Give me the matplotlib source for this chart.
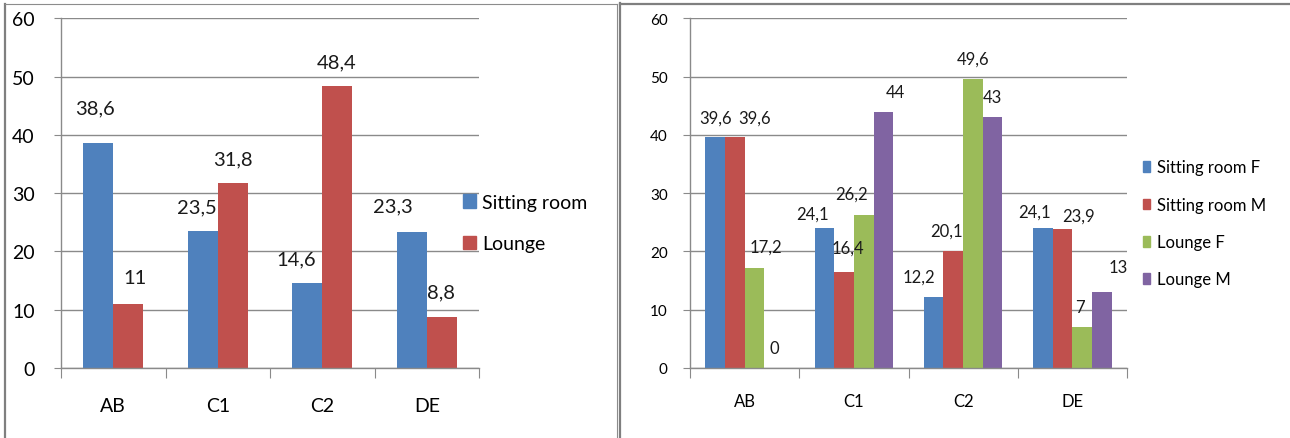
import matplotlib
matplotlib.use("Agg")
import matplotlib.pyplot as plt
import numpy as np
from matplotlib.patches import Patch
from matplotlib.lines import Line2D

plt.rcParams['font.family'] = ['Lato', 'DejaVu Sans']

# ---- data ----
categories = ["AB", "C1", "C2", "DE"]

left_series = ["Sitting room", "Lounge"]
sitting_room = [38.6, 23.5, 14.6, 23.3]
lounge = [11, 31.8, 48.4, 8.8]

right_series = ["Sitting room F", "Sitting room M", "Lounge F", "Lounge M"]
sitting_room_f = [39.6, 24.1, 12.2, 24.1]
sitting_room_m = [39.6, 16.4, 20.1, 23.9]
lounge_f = [17.2, 26.2, 49.6, 7]
lounge_m = [0, 44, 43, 13]

y_ticks = [0, 10, 20, 30, 40, 50, 60]

# ---- styling ----
colors = ["#4F81BD", "#C0504D", "#9BBB59", "#8064A2"]
grid_color = "#8A8A8A"
W, H = 1290, 439

# label nudges in pixels (dx, dy above bar top), one row per series
left_nudge = [[(-3, 35), (-6, 24), (-11, 24), (-19, 26)],
              [(7, 26), (0, 24), (-1, 24), (-1, 25)]]
right_nudge = [[(0, 20), (-12, 14), (-15, 20), (-8, 16)],
               [(20, 20), (4, 25), (-7, 20), (16, 13)],
               [(11, 21), (-12, 22), (0, 20), (-2, 20)],
               [(0, 20), (12, 20), (0, 20), (16, 25)]]


def fmt(v):
    s = f"{v:g}"
    return s.replace(".", ",")


fig = plt.figure(figsize=(W / 100, H / 100), dpi=100)


def px_rect(x0, y0, x1, y1):
    return [x0 / W, 1 - y1 / H, (x1 - x0) / W, (y1 - y0) / H]


def setup_axes(ax, tick_fs, cat_fs, cat_pad, ypad):
    ax.set_ylim(0, 60)
    ax.set_xlim(-0.5, len(categories) - 0.5)
    ax.set_yticks(y_ticks)
    ax.set_yticklabels([str(t) for t in y_ticks], fontsize=tick_fs)
    ax.yaxis.grid(True, color=grid_color, linewidth=1.0)
    ax.set_axisbelow(True)
    for s in ["top", "right"]:
        ax.spines[s].set_visible(False)
    for s in ["left", "bottom"]:
        ax.spines[s].set_color(grid_color)
        ax.spines[s].set_linewidth(1.0)
    ax.tick_params(axis="y", length=5, color=grid_color, pad=ypad)
    # category tick marks sit at group boundaries
    ax.set_xticks(np.arange(-0.5, len(categories), 1.0))
    ax.set_xticklabels([])
    ax.set_xticks(np.arange(len(categories)), minor=True)
    ax.set_xticklabels(categories, minor=True, fontsize=cat_fs)
    ax.tick_params(axis="x", which="major", length=7, color=grid_color, direction="out")
    ax.tick_params(axis="x", which="minor", length=0, pad=cat_pad)


def draw_bars(ax, series_values, width, nudges, fs):
    n = len(series_values)
    x = np.arange(len(categories))
    for i, vals in enumerate(series_values):
        pos = x + (i - (n - 1) / 2) * width
        ax.bar(pos, vals, width=width, color=colors[i], linewidth=0)
        for j, (p, v) in enumerate(zip(pos, vals)):
            dx, dy = nudges[i][j]
            ax.annotate(fmt(v), xy=(p, v), xytext=(dx, dy),
                        textcoords="offset pixels", ha="center", va="center",
                        fontsize=fs, color="#1a1a1a")


# ---- left chart ----
axL = fig.add_axes(px_rect(61, 19.3, 479, 369))
setup_axes(axL, tick_fs=14, cat_fs=14, cat_pad=21, ypad=14)
draw_bars(axL, [sitting_room, lounge], 0.285, left_nudge, 14.5)
axL.legend(handles=[Patch(color=colors[i], label=left_series[i]) for i in range(2)],
           loc="center left", bbox_to_anchor=(463 / W, 1 - 224 / H),
           bbox_transform=fig.transFigure, frameon=False, fontsize=14,
           handlelength=0.65, handleheight=0.7, handletextpad=0.35,
           labelspacing=1.25, borderpad=0, borderaxespad=0)

# ---- right chart ----
axR = fig.add_axes(px_rect(690, 19.3, 1127, 369))
setup_axes(axR, tick_fs=11, cat_fs=12, cat_pad=18, ypad=11)
draw_bars(axR, [sitting_room_f, sitting_room_m, lounge_f, lounge_m], 0.18,
          right_nudge, 12)
axR.legend(handles=[Patch(color=colors[i], label=right_series[i]) for i in range(4)],
           loc="center left", bbox_to_anchor=(1143 / W, 1 - 224.5 / H),
           bbox_transform=fig.transFigure, frameon=False, fontsize=12,
           handlelength=0.4, handleheight=0.6, handletextpad=0.45,
           labelspacing=1.28, borderpad=0, borderaxespad=0)

# ---- panel frames ----
def fig_line(xs, ys, lw, color):
    fig.add_artist(Line2D([x / W for x in xs], [1 - y / H for y in ys],
                          transform=fig.transFigure, color=color, linewidth=lw))

fig_line([4.5, 4.5], [5, 439], 1.6, "#7f7f7f")
fig_line([4.5, 616.5], [5, 5], 0.8, "#8c8c8c")
fig_line([616.5, 616.5], [5, 439], 0.8, "#8c8c8c")
fig_line([619.5, 619.5], [4, 439], 1.6, "#7f7f7f")
fig_line([619.5, 1290], [4.5, 4.5], 1.6, "#7f7f7f")

fig.savefig("out.png", dpi=100, facecolor="white")
